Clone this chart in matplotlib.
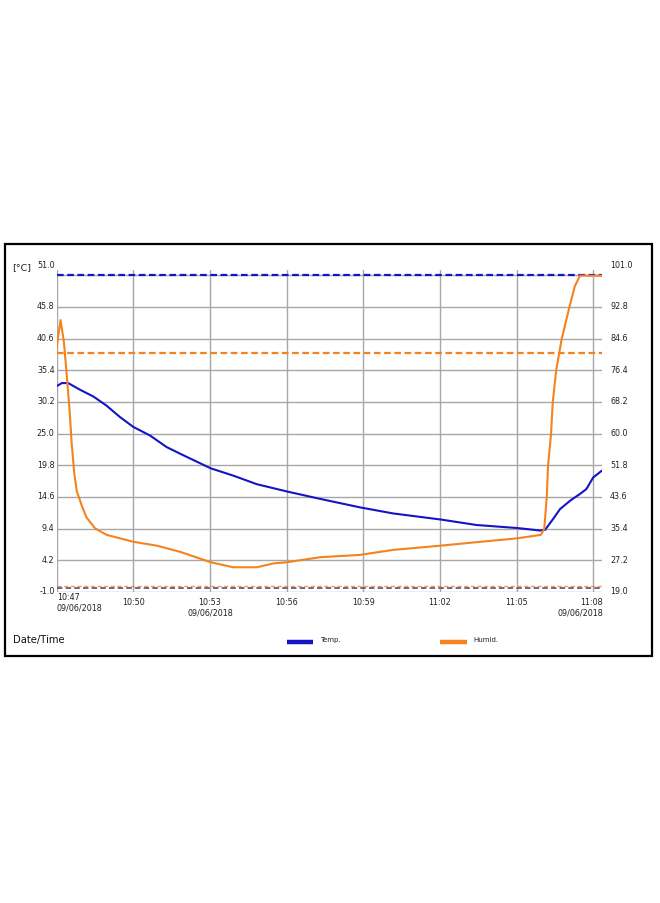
import pandas as pd
import matplotlib
matplotlib.use("Agg")
import matplotlib.pyplot as plt
from matplotlib.lines import Line2D
from matplotlib.patches import Rectangle
from matplotlib.transforms import ScaledTranslation

day = "2018-06-09 "

# temperature readings [°C]
temp_time = ["10:47:00", "10:47:12", "10:47:27", "10:47:55", "10:48:26", "10:48:57",
             "10:49:29", "10:50:00", "10:50:39", "10:51:18", "10:51:50", "10:53:02",
             "10:53:55", "10:54:50", "10:56:01", "10:57:18", "10:58:52", "11:00:10",
             "11:02:02", "11:03:26", "11:05:02", "11:05:55", "11:06:07", "11:06:26",
             "11:06:42", "11:07:06", "11:07:29", "11:07:44", "11:08:00", "11:08:20"]
temp_val = [32.8, 33.3, 33.3, 32.2, 31.1, 29.6,
            27.7, 26.1, 24.7, 22.8, 21.7, 19.3,
            18.1, 16.7, 15.5, 14.3, 12.9, 11.9,
            10.9, 10.0, 9.5, 9.1, 9.2, 11.0,
            12.6, 14.0, 15.1, 15.9, 17.8, 18.9]

# humidity readings [%]
hum_time = ["10:47:00", "10:47:09", "10:47:17", "10:47:23", "10:47:30", "10:47:35",
            "10:47:41", "10:47:47", "10:47:59", "10:48:10", "10:48:30", "10:48:57",
            "10:50:00", "10:50:55", "10:51:50", "10:53:02", "10:53:55", "10:54:50",
            "10:55:29", "10:56:01", "10:57:18", "10:58:52", "11:00:10", "11:02:02",
            "11:03:26", "11:05:02", "11:05:57", "11:06:05", "11:06:11", "11:06:14",
            "11:06:21", "11:06:25", "11:06:33", "11:06:46", "11:07:04", "11:07:17",
            "11:07:29", "11:08:20"]
hum_val = [82.4, 89.4, 83.7, 75.9, 66.4, 57.8,
           50.0, 45.2, 41.3, 38.3, 35.5, 33.8,
           32.0, 31.0, 29.4, 26.7, 25.4, 25.4,
           26.4, 26.7, 28.0, 28.6, 29.9, 31.0,
           31.9, 32.9, 33.8, 35.3, 43.6, 51.7,
           59.9, 68.1, 76.3, 84.5, 92.7, 98.2,
           100.9, 100.9]

temp_ticks = [-1.0, 4.2, 9.4, 14.6, 19.8, 25.0, 30.2, 35.4, 40.6, 45.8, 51.0]
hum_ticks = [19.0, 27.2, 35.4, 43.6, 51.8, 60.0, 68.2, 76.4, 84.6, 92.8, 101.0]
time_ticks = ["10:47", "10:50", "10:53", "10:56", "10:59", "11:02", "11:05", "11:08"]
time_labels = ["10:47\n09/06/2018", "10:50", "10:53\n09/06/2018", "10:56",
               "10:59", "11:02", "11:05", "11:08\n09/06/2018"]

temp_alarm_hi = 51.0
temp_alarm_lo = -0.3
hum_alarm_hi = 81.0
hum_alarm_lo = 20.5

blue = "#1414c4"
orange = "#f5821f"
grid_c = "#a8a8a8"

W, H = 660, 904
fig = plt.figure(figsize=(W / 100, H / 100), dpi=100)

def fx(x):
    return x / W

def fy(y):
    return 1 - y / H

ax = fig.add_axes([fx(56.7), fy(593), fx(601.7) - fx(56.7), fy(270.8) - fy(593)])
ax2 = ax.twinx()

t_temp = pd.to_datetime([day + t for t in temp_time])
t_hum = pd.to_datetime([day + t for t in hum_time])
t_ticks = pd.to_datetime([day + t for t in time_ticks])

ax.set_xlim(pd.Timestamp(day + "10:47:00"), pd.Timestamp(day + "11:08:20"))
ax.set_ylim(-1.0, 51.9)
ax2.set_ylim(19.0, 19.0 + 52.9 * 8.2 / 5.2)

ax.set_xticks(t_ticks)
ax.set_xticklabels(time_labels)
ax.set_yticks(temp_ticks)
ax.set_yticklabels([f"{v:.1f}" for v in temp_ticks])
ax2.set_yticks(hum_ticks)
ax2.set_yticklabels([f"{v:.1f}" for v in hum_ticks])

ax.grid(True, color=grid_c, lw=1.0)
ax.set_axisbelow(True)
for a in (ax, ax2):
    for s in a.spines.values():
        s.set_visible(False)
ax.tick_params(axis="y", length=0, pad=1.5, labelsize=5.8, labelcolor="#222222")
ax.tick_params(axis="x", length=0, pad=3.6, labelsize=5.8, labelcolor="#222222")
ax2.tick_params(axis="y", length=0, pad=6.0, labelsize=5.8, labelcolor="#222222")

# shift tick labels slightly up, top ones a bit more
for a in (ax, ax2):
    labs = a.get_yticklabels()
    for i, lb in enumerate(labs):
        dy = 8.5 if i == len(labs) - 1 else 1.5
        lb.set_transform(lb.get_transform() + ScaledTranslation(0, dy / 72, fig.dpi_scale_trans))
xl = ax.get_xticklabels()
for lb in xl:
    lb.set_linespacing(1.15)
xl[0].set_ha("left")
xl[0].set_transform(xl[0].get_transform() + ScaledTranslation(0, 3.5 / 72, fig.dpi_scale_trans))
xl[-1].set_ha("right")
xl[-1].set_transform(xl[-1].get_transform() + ScaledTranslation(7 / 72, 0, fig.dpi_scale_trans))

# alarm lines
ax.axhline(temp_alarm_hi, color=blue, lw=1.6, dashes=(3, 1.6))
ax.axhline(temp_alarm_lo, color="#5c5a8c", lw=1.3, dashes=(3, 1.8))
ax2.axhline(hum_alarm_hi, color=orange, lw=1.6, dashes=(3, 1.6))
ax2.axhline(hum_alarm_lo, color=orange, lw=1.0, dashes=(3, 1.8), alpha=0.8)

ax.plot(t_temp, temp_val, color=blue, lw=1.5)
ax2.plot(t_hum, hum_val, color=orange, lw=1.5)

fig.text(fx(12.5), fy(268), "[°C]", fontsize=6.8, va="center", ha="left", color="#222222")
fig.text(fx(12.5), fy(640), "Date/Time", fontsize=7.2, va="center", ha="left", color="#111111")

# legend
fig.add_artist(Line2D([fx(286.7), fx(313.3)], [fy(643), fy(643)], color=blue, lw=3.2,
                      transform=fig.transFigure, solid_capstyle="butt"))
fig.text(fx(320), fy(640), "Temp.", fontsize=5, va="center", ha="left", color="#222222")
fig.add_artist(Line2D([fx(440), fx(466.7)], [fy(643), fy(643)], color=orange, lw=3.2,
                      transform=fig.transFigure, solid_capstyle="butt"))
fig.text(fx(473), fy(640), "Humid.", fontsize=5, va="center", ha="left", color="#222222")

# outer frame
fig.add_artist(Rectangle((fx(5), fy(657)), fx(652) - fx(5), fy(245) - fy(657), fill=False,
                         edgecolor="black", lw=1.6, transform=fig.transFigure))

fig.savefig("out.png", dpi=100, facecolor="white")
